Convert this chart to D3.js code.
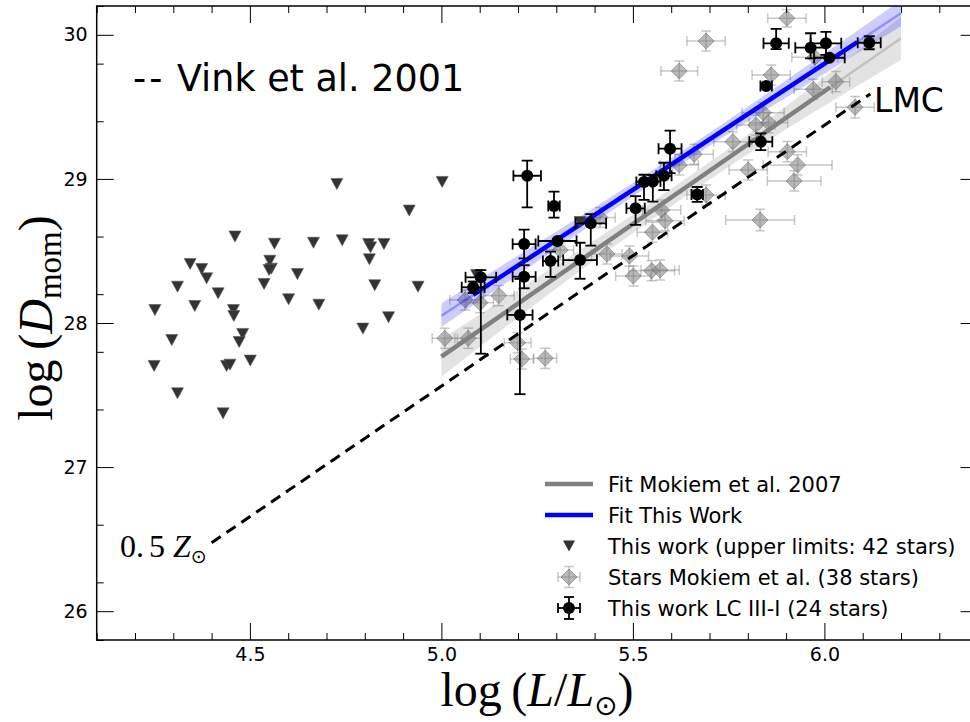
<!DOCTYPE html>
<html>
<head>
<meta charset="utf-8">
<script src="https://cdnjs.cloudflare.com/ajax/libs/d3/7.8.5/d3.min.js"></script>
<style>
  body { margin: 0; background: #fff; }
  .tick text { font-family: "DejaVu Sans", sans-serif; font-size: 19px; fill: #000; }
</style>
</head>
<body>
<div id="chart"></div>
<script>
// upper limits (triangles), 42 stars
const limX = [4.727, 5.002, 4.916, 4.461, 4.564, 4.666, 4.741, 4.810, 4.815, 4.850,
  4.812, 4.344, 4.374, 4.552, 4.556, 4.550, 4.624, 4.387, 4.311, 4.537,
  4.826, 4.939, 4.417, 4.601, 4.680, 4.252, 4.356, 4.457, 4.458, 4.862,
  4.795, 4.296, 4.481, 4.472, 4.250, 4.439, 4.448, 4.501, 4.311, 4.430,
  5.362, 5.092];
const limY = [28.965, 28.979, 28.780, 28.600, 28.550, 28.557, 28.574, 28.548, 28.525, 28.548,
  28.442, 28.410, 28.375, 28.432, 28.377, 28.368, 28.340, 28.310, 28.252, 28.271,
  28.262, 28.252, 28.206, 28.165, 28.127, 28.090, 28.118, 28.090, 28.049, 28.040,
  27.961, 27.882, 27.924, 27.868, 27.702, 27.702, 27.711, 27.739, 27.512, 27.373,
  28.701, 28.333];

// Mokiem et al. stars (diamonds), 38 stars
const mokX = [5.902, 5.691, 5.621, 5.861, 5.975, 6.030, 5.971, 6.080, 5.840, 5.854,
  5.821, 5.761, 5.903, 5.660, 5.930, 5.621, 5.801, 5.921, 5.691, 5.575,
  5.584, 5.414, 5.832, 5.551, 5.310, 5.432, 5.491, 5.549, 5.571, 5.501,
  5.150, 5.062, 5.101, 5.009, 5.070, 5.199, 5.210, 5.271];
const mokY = [30.115, 29.957, 29.749, 29.721, 29.844, 29.675, 29.622, 29.497, 29.460, 29.390,
  29.374, 29.258, 29.189, 29.171, 29.097, 29.097, 29.062, 28.986, 28.888, 28.784,
  28.710, 28.732, 28.715, 28.630, 28.507, 28.479, 28.465, 28.363, 28.368, 28.326,
  28.190, 28.160, 28.141, 27.894, 27.894, 27.863, 27.750, 27.755];
const mokXerr = [0.05, 0.05, 0.048, 0.05, 0.06, 0.036, 0.05, 0.05, 0.055, 0.05,
  0.05, 0.05, 0.05, 0.05, 0.09, 0.05, 0.05, 0.07, 0.05, 0.05,
  0.05, 0.04, 0.09, 0.04, 0.035, 0.04, 0.05, 0.06, 0.05, 0.046,
  0.04, 0.04, 0.035, 0.033, 0.035, 0.035, 0.03, 0.03];
const mokYerr = [0.06, 0.07, 0.07, 0.07, 0.07, 0.07, 0.07, 0.075, 0.07, 0.07,
  0.07, 0.07, 0.07, 0.07, 0.07, 0.07, 0.07, 0.07, 0.07, 0.07,
  0.07, 0.07, 0.075, 0.07, 0.07, 0.07, 0.07, 0.07, 0.07, 0.07,
  0.07, 0.07, 0.07, 0.07, 0.07, 0.07, 0.07, 0.07];

// this work LC III-I (circles), 24 stars
const ourX = [6.117, 5.874, 5.964, 6.004, 6.013, 5.848, 5.834, 5.597, 5.224, 5.581,
  5.529, 5.552, 5.668, 5.294, 5.507, 5.390, 5.303, 5.216, 5.285, 5.362,
  5.103, 5.083, 5.216, 5.205];
const ourY = [29.945, 29.941, 29.911, 29.941, 29.841, 29.645, 29.258, 29.210, 29.022, 29.022,
  28.979, 28.982, 28.892, 28.812, 28.796, 28.692, 28.569, 28.548, 28.430, 28.437,
  28.317, 28.248, 28.321, 28.056];
const ourXerr = [0.03, 0.033, 0.04, 0.04, 0.04, 0.015, 0.03, 0.03, 0.036, 0.02,
  0.02, 0.02, 0.015, 0.015, 0.024, 0.04, 0.05, 0.03, 0.02, 0.044,
  0.04, 0.03, 0.03, 0.033];
const ourYerrLo = [0.045, 0.04, 0.075, 0.08, 0.01, 0.01, 0.058, 0.17, 0.22, 0.1,
  0.125, 0.14, 0.052, 0.08, 0.115, 0.155, 0.01, 0.1, 0.11, 0.13,
  0.53, 0.04, 0.08, 0.55];
const ourYerrHi = [0.045, 0.1, 0.1, 0.08, 0.01, 0.01, 0.058, 0.125, 0.105, 0.09,
  0.05, 0.045, 0.052, 0.1, 0.085, 0.063, 0.01, 0.1, 0.065, 0.12,
  0.05, 0.04, 0.08, 0.25];

// fits and confidence bands
const bandX = [5.0, 5.3, 5.6, 5.9, 6.2];
const blueLo = [27.973, 28.515, 29.055, 29.565, 30.06];
const blueHi = [28.137, 28.635, 29.145, 29.685, 30.24];
const grayLo = [27.627, 28.24, 28.811, 29.344, 29.826];
const grayHi = [27.889, 28.40, 28.931, 29.504, 30.126];
const blueFullX = [5.0, 6.2], blueFullY = [28.05, 30.15];
const blueFitX = [5.083, 6.086], blueFitY = [28.195, 29.95];
const grayFullX = [5.0, 6.2], grayFullY = [27.766, 29.976];
const grayFitX = [5.0, 6.015], grayFitY = [27.766, 29.636];
const vinkX = [4.4, 6.12], vinkY = [26.475, 29.59];

const xMajor = [4.5, 5.0, 5.5, 6.0];
const yMajor = [26, 27, 28, 29, 30];

const legendLabels = ['Fit Mokiem et al. 2007', 'Fit This Work',
  'This work (upper limits: 42 stars)', 'Stars Mokiem et al. (38 stars)',
  'This work LC III-I (24 stars)'];

const W = 970, H = 722;
const x = d3.scaleLinear().domain([4.1, 6.4]).range([96.7, 977.6]);
const y = d3.scaleLinear().domain([25.8, 30.2]).range([640, 6]);

const svg = d3.select('#chart').append('svg')
  .attr('width', W).attr('height', H)
  .style('font-family', '"DejaVu Sans", sans-serif');

svg.append('clipPath').attr('id', 'clip')
  .append('rect').attr('x', x(4.1)).attr('y', y(30.2))
  .attr('width', x(6.4) - x(4.1)).attr('height', y(25.8) - y(30.2));

const plot = svg.append('g').attr('clip-path', 'url(#clip)');

const line = d3.line().x(d => x(d[0])).y(d => y(d[1]));
const band = d3.area().x(d => x(d[0])).y0(d => y(d[1])).y1(d => y(d[2])).curve(d3.curveNatural);

// Mokiem diamonds with error bars
const mokG = plot.append('g');
mokX.forEach((v, i) => {
  const g = mokG.append('g');
  const cx = x(v), cy = y(mokY[i]);
  const x0 = x(v - mokXerr[i]), x1 = x(v + mokXerr[i]);
  const y0 = y(mokY[i] - mokYerr[i]), y1 = y(mokY[i] + mokYerr[i]);
  g.selectAll('line').data([[x0, cy, x1, cy], [cx, y0, cx, y1],
    [x0, cy - 5, x0, cy + 5], [x1, cy - 5, x1, cy + 5],
    [cx - 5, y0, cx + 5, y0], [cx - 5, y1, cx + 5, y1]])
    .enter().append('line')
    .attr('x1', d => d[0]).attr('y1', d => d[1]).attr('x2', d => d[2]).attr('y2', d => d[3])
    .attr('stroke', '#888').attr('stroke-opacity', 0.45).attr('stroke-width', 1.5);
  g.append('path').attr('d', 'M0,-8L8,0L0,8L-8,0Z')
    .attr('transform', `translate(${cx},${cy})`)
    .attr('fill', '#808080').attr('fill-opacity', 0.55)
    .attr('stroke', '#606060').attr('stroke-opacity', 0.5).attr('stroke-width', 1);
});

// confidence bands and fits
const grayBand = bandX.map((v, i) => [v, grayLo[i], grayHi[i]]);
const blueBand = bandX.map((v, i) => [v, blueLo[i], blueHi[i]]);
plot.append('path').datum(grayBand).attr('d', band)
  .attr('fill', '#808080').attr('fill-opacity', 0.22);
plot.append('path').datum(blueBand).attr('d', band)
  .attr('fill', '#0000ff').attr('fill-opacity', 0.2);
plot.append('path').datum(grayFullX.map((v, i) => [v, grayFullY[i]])).attr('d', line)
  .attr('stroke', '#808080').attr('stroke-opacity', 0.35).attr('stroke-width', 2.5).attr('fill', 'none');
plot.append('path').datum(blueFullX.map((v, i) => [v, blueFullY[i]])).attr('d', line)
  .attr('stroke', '#0000ff').attr('stroke-opacity', 0.3).attr('stroke-width', 2.5).attr('fill', 'none');
plot.append('path').datum(grayFitX.map((v, i) => [v, grayFitY[i]])).attr('d', line)
  .attr('stroke', '#808080').attr('stroke-width', 4.5).attr('fill', 'none');
plot.append('path').datum(blueFitX.map((v, i) => [v, blueFitY[i]])).attr('d', line)
  .attr('stroke', '#0000ff').attr('stroke-width', 4.5).attr('fill', 'none');

// Vink et al. 2001
plot.append('path').datum(vinkX.map((v, i) => [v, vinkY[i]])).attr('d', line)
  .attr('stroke', '#000').attr('stroke-width', 3).attr('stroke-dasharray', '11,7')
  .attr('fill', 'none');

// upper limits
plot.selectAll('.lim').data(limX.map((v, i) => [v, limY[i]])).enter()
  .append('path').attr('class', 'lim')
  .attr('d', 'M-6,-5.5L6,-5.5L0,5.5Z')
  .attr('transform', d => `translate(${x(d[0])},${y(d[1])})`)
  .attr('fill', '#333').attr('stroke', '#555').attr('stroke-width', 0.6);

// this work circles with error bars
const ourG = plot.append('g');
ourX.forEach((v, i) => {
  const g = ourG.append('g');
  const cx = x(v), cy = y(ourY[i]);
  const x0 = x(v - ourXerr[i]), x1 = x(v + ourXerr[i]);
  const y0 = y(ourY[i] - ourYerrLo[i]), y1 = y(ourY[i] + ourYerrHi[i]);
  g.selectAll('line').data([[x0, cy, x1, cy], [cx, y0, cx, y1],
    [x0, cy - 5.5, x0, cy + 5.5], [x1, cy - 5.5, x1, cy + 5.5],
    [cx - 5.5, y0, cx + 5.5, y0], [cx - 5.5, y1, cx + 5.5, y1]])
    .enter().append('line')
    .attr('x1', d => d[0]).attr('y1', d => d[1]).attr('x2', d => d[2]).attr('y2', d => d[3])
    .attr('stroke', '#000').attr('stroke-width', 1.8);
  g.append('circle').attr('cx', cx).attr('cy', cy).attr('r', 6).attr('fill', '#000');
});

// axes
const xMinor = d3.range(41, 65).map(d => d / 10).filter(d => !xMajor.some(m => Math.abs(m - d) < 1e-6));
const yMinor = d3.range(129, 152, 2).map(d => d / 5).filter(d => Math.abs(d - Math.round(d)) > 1e-6);

function addAxis(axis, tr) {
  const g = svg.append('g').attr('transform', tr).call(axis);
  g.select('.domain').remove();
  g.selectAll('line').attr('stroke', '#000');
  return g;
}
addAxis(d3.axisBottom(x).tickValues(xMajor).tickSize(-17).tickPadding(8).tickFormat(d3.format('.1f')), `translate(0,${y(25.8)})`);
addAxis(d3.axisBottom(x).tickValues(xMinor).tickSize(-7).tickFormat(''), `translate(0,${y(25.8)})`);
addAxis(d3.axisTop(x).tickValues(xMajor).tickSize(-17).tickFormat(''), `translate(0,${y(30.2)})`);
addAxis(d3.axisTop(x).tickValues(xMinor).tickSize(-7).tickFormat(''), `translate(0,${y(30.2)})`);
addAxis(d3.axisLeft(y).tickValues(yMajor).tickSize(-17).tickPadding(9).tickFormat(d3.format('d')), `translate(${x(4.1)},0)`);
addAxis(d3.axisLeft(y).tickValues(yMinor).tickSize(-7).tickFormat(''), `translate(${x(4.1)},0)`);
addAxis(d3.axisRight(y).tickValues(yMajor).tickSize(-17).tickFormat(''), `translate(${x(6.4)},0)`);
addAxis(d3.axisRight(y).tickValues(yMinor).tickSize(-7).tickFormat(''), `translate(${x(6.4)},0)`);

svg.append('rect').attr('x', x(4.1)).attr('y', y(30.2))
  .attr('width', x(6.4) - x(4.1)).attr('height', y(25.8) - y(30.2))
  .attr('fill', 'none').attr('stroke', '#000').attr('stroke-width', 1.5);

// axis labels
const serif = '"Liberation Serif", "DejaVu Serif", serif';
const xl = svg.append('text').attr('x', 537).attr('y', 706).attr('text-anchor', 'middle')
  .style('font-family', serif).style('font-size', '48px');
xl.append('tspan').text('log\u2009(');
xl.append('tspan').text('L').style('font-style', 'italic');
xl.append('tspan').text('/');
xl.append('tspan').text('L').style('font-style', 'italic');
xl.append('tspan').text('\u2299').attr('dy', 9).style('font-size', '28px').style('font-family', '"DejaVu Sans", sans-serif');
xl.append('tspan').text(')').attr('dy', -9);

const yl = svg.append('text').attr('transform', 'translate(52,318) rotate(-90)')
  .attr('text-anchor', 'middle')
  .style('font-family', serif).style('font-size', '48px');
yl.append('tspan').text('log\u2009(');
yl.append('tspan').text('D').style('font-style', 'italic');
yl.append('tspan').text('mom').attr('dy', 9).style('font-size', '33px');
yl.append('tspan').text(')').attr('dy', -9);

// annotations
const vt = svg.append('text').attr('x', 133).attr('y', 91).style('font-size', '36.5px');
vt.append('tspan').text('--').style('letter-spacing', '3px');
vt.append('tspan').text(' Vink et al. 2001');
svg.append('text').attr('x', 874).attr('y', 112).style('font-size', '33px').text('LMC');
const zt = svg.append('text').attr('x', 120).attr('y', 557)
  .style('font-family', serif).style('font-size', '32px');
zt.append('tspan').text('0.');
zt.append('tspan').text('5').attr('dx', 5);
zt.append('tspan').text('Z').attr('dx', 8).style('font-style', 'italic');
zt.append('tspan').text('\u2299').attr('dy', 6).style('font-size', '19px').style('font-family', '"DejaVu Sans", sans-serif');

// legend
const legRows = [484, 515, 546, 577, 608];
const lg = svg.append('g');
lg.append('line').attr('x1', 545).attr('x2', 593).attr('y1', legRows[0]).attr('y2', legRows[0])
  .attr('stroke', '#808080').attr('stroke-width', 4.5);
lg.append('line').attr('x1', 545).attr('x2', 593).attr('y1', legRows[1]).attr('y2', legRows[1])
  .attr('stroke', '#0000ff').attr('stroke-width', 4.5);
lg.append('path').attr('d', 'M-6,-5.5L6,-5.5L0,5.5Z')
  .attr('transform', `translate(569,${legRows[2]})`).attr('fill', '#333');
const lgm = lg.append('g').attr('transform', `translate(569,${legRows[3]})`);
[[-11, 0, 11, 0], [0, -10.5, 0, 10.5], [-11, -5, -11, 5], [11, -5, 11, 5], [-5, -10.5, 5, -10.5], [-5, 10.5, 5, 10.5]]
  .forEach(d => lgm.append('line').attr('x1', d[0]).attr('y1', d[1]).attr('x2', d[2]).attr('y2', d[3])
    .attr('stroke', '#888').attr('stroke-opacity', 0.45).attr('stroke-width', 1.5));
lgm.append('path').attr('d', 'M0,-8L8,0L0,8L-8,0Z')
  .attr('fill', '#808080').attr('fill-opacity', 0.55).attr('stroke', '#606060').attr('stroke-opacity', 0.5);
const lgo = lg.append('g').attr('transform', `translate(569,${legRows[4]})`);
[[-11, 0, 11, 0], [0, -11, 0, 11], [-11, -5, -11, 5], [11, -5, 11, 5], [-5, -11, 5, -11], [-5, 11, 5, 11]]
  .forEach(d => lgo.append('line').attr('x1', d[0]).attr('y1', d[1]).attr('x2', d[2]).attr('y2', d[3])
    .attr('stroke', '#000').attr('stroke-width', 1.8));
lgo.append('circle').attr('r', 6).attr('fill', '#000');
lg.selectAll('.lt').data(legendLabels).enter().append('text').attr('class', 'lt')
  .attr('x', 608).attr('y', (d, i) => legRows[i] + 7.5)
  .style('font-size', '21px').text(d => d);
</script>
</body>
</html>
